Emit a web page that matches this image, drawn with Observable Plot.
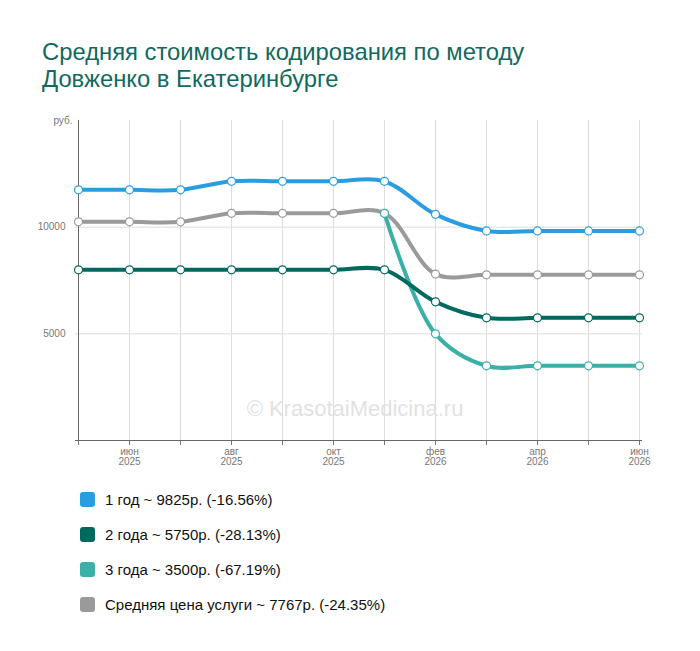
<!DOCTYPE html>
<html><head><meta charset="utf-8">
<script src="https://cdn.jsdelivr.net/npm/d3@7"></script>
<script src="https://cdn.jsdelivr.net/npm/@observablehq/plot@0.6"></script>
<style>
body{margin:0;background:#fff;font-family:Arial,"Liberation Sans",sans-serif;}
#title{position:absolute;left:42px;top:38px;font-size:23.8px;line-height:27px;color:#11695f;}
#chart{position:absolute;left:0;top:100px;}
#wm{position:absolute;left:0;width:700px;top:396px;text-align:center;padding-left:10px;box-sizing:border-box;font-size:22px;color:#e2e2e2;}
#legend{position:absolute;left:80px;top:482px;font-size:15px;color:#111;}
.li{display:flex;align-items:center;height:35px;}
.sw{width:15px;height:15px;border-radius:3px;margin-right:10px;}
</style></head><body>
<div id="title">Средняя стоимость кодирования по методу<br>Довженко в Екатеринбурге</div>
<div id="chart"></div>
<div id="wm">© KrasotaiMedicina.ru</div>
<div id="legend"></div>
<script>
const idx = [0,1,2,3,4,5,6,7,8,9,10,11];
const tickLabels = ["","июн\n2025","","авг\n2025","","окт\n2025","","фев\n2026","","апр\n2026","","июн\n2026"];
const y1 = [11750,11750,11750,12150,12150,12150,12150,10600,9825,9825,9825,9825];
const y2 = [8000,8000,8000,8000,8000,8000,8000,6500,5750,5750,5750,5750];
const y3 = [null,null,null,null,null,null,10650,5000,3500,3500,3500,3500];
const yAvg = [10250,10250,10250,10650,10650,10650,10650,7800,7767,7767,7767,7767];
const names = ["1 год ~ 9825р. (-16.56%)","2 года ~ 5750р. (-28.13%)","3 года ~ 3500р. (-67.19%)","Средняя цена услуги ~ 7767р. (-24.35%)"];
const colors = ["#2a9de0","#00695e","#3ab0a8","#9a9a9a"];
const series = [y1,y2,y3,yAvg];
const marks = [
  Plot.ruleX(idx,{x:d=>d,y1:0,y2:15000,stroke:"#ddd"}),
  Plot.ruleY([5000,10000],{stroke:"#ddd"}),
  Plot.ruleX([0],{y1:0,y2:15000,stroke:"#666"}),
  Plot.ruleY([0],{stroke:"#666"}),
];
for (const s of [3,2,1,0]) {
  const data = idx.map(i=>({x:i,y:series[s][i]})).filter(d=>d.y!=null);
  marks.push(Plot.line(data,{x:"x",y:"y",stroke:colors[s],strokeWidth:4,curve:"catmull-rom"}));
}
for (const s of [3,2,1,0]) {
  const data = idx.map(i=>({x:i,y:series[s][i]})).filter(d=>d.y!=null);
  marks.push(Plot.dot(data,{x:"x",y:"y",r:4,fill:"white",stroke:colors[s],strokeWidth:1.2}));
}
marks.push(Plot.text(["руб."],{x:0,y:15000,text:d=>d,textAnchor:"end",dx:-6,fill:"#777",fontSize:10}));
const chart = Plot.plot({
  width:700,height:375,marginLeft:75,marginRight:58,marginTop:20,marginBottom:35,
  x:{type:"point",domain:idx,padding:0,axis:"bottom",tickFormat:i=>tickLabels[i],tickSize:5,tickPadding:2,label:null},
  y:{domain:[0,15000],ticks:[5000,10000],tickFormat:d=>String(d),tickSize:0,tickPadding:10,label:null},
  style:{fontSize:"10px",color:"#777",fontFamily:"Arial, Liberation Sans, sans-serif"},
  marks
});
document.getElementById("chart").append(chart);
const lg = document.getElementById("legend");
names.forEach((n,i)=>{const d=document.createElement("div");d.className="li";
d.innerHTML=`<span class="sw" style="background:${colors[i]}"></span>${n}`;lg.append(d);});
</script></body></html>
